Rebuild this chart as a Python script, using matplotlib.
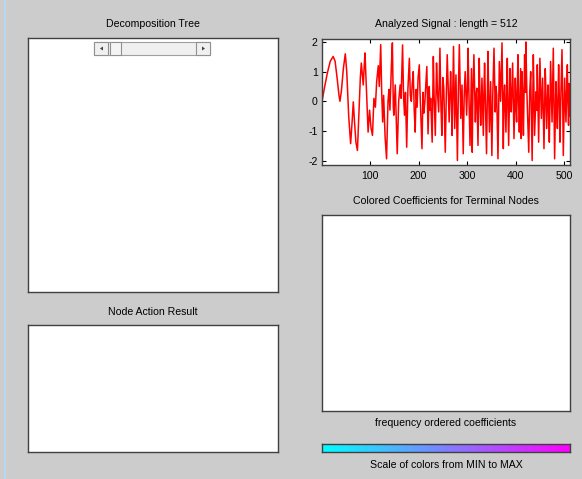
import numpy as np
import matplotlib.pyplot as plt
from matplotlib.patches import Rectangle, Polygon

plt.rcParams['font.family'] = ['Liberation Sans', 'DejaVu Sans']
plt.rcParams['axes.unicode_minus'] = False

# Дані сигналу (точки кривої)
sig_x = [1, 6, 12, 18, 24, 28, 32, 36, 38, 41, 45, 49, 52, 56, 60, 63, 65.5, 68, 71, 74,
         77, 80, 82, 84, 86, 88, 89.6, 92, 96, 99, 102, 105,
         108, 111, 113.6, 117, 119, 122, 124, 126, 128, 131, 134, 137, 139, 141, 144,
         146, 148, 149, 152, 154, 156, 159, 162, 164, 167, 169, 171, 173, 175.5, 178,
         181, 183, 185, 187, 189, 191, 193, 195, 197, 199, 201.5, 203, 205,
         207, 209, 211, 213, 215, 217, 219.5, 222, 223.5, 225, 228, 230.4, 232, 234.5,
         237, 239, 241.4, 244, 246, 248, 250, 252, 255, 257, 259, 261, 263, 266, 267.5,
         269, 272, 274.4, 276, 277, 280, 282, 284, 287, 289.5, 292, 294, 296, 299,
         300.5, 302, 304, 306, 309,
         310.5, 312, 314, 317, 318.5, 320, 322.4, 325, 326.5, 328, 330.6, 333.4, 334.8,
         336, 338, 340, 343, 344.5, 346, 348.5, 351, 353, 355.4, 358, 359.5, 361, 363.6,
         366.4, 369, 371.9, 374.6, 376, 377.3, 380, 382.8, 384, 385.6, 388.3, 390, 391,
         393.8, 395, 396.6, 399.3, 400.7, 402, 404.8, 406, 407.6, 410.3,
         411.5, 413, 414.5, 416, 418.5, 420, 421, 423, 424.5, 427, 429, 431, 432.5, 434,
         436.4, 437.8, 439, 442, 443.5, 444.6, 447.4, 449, 450, 453, 454.5, 455.6, 458.4,
         461, 462.5, 464, 466.6, 468, 469.4, 472, 473.5, 475, 477.6, 479, 480.3, 483,
         484.5, 486, 488.6, 490, 491.3, 493.5, 495.5, 497, 498.2, 501, 502.5, 503.7,
         506.5, 507.8, 509, 510.5, 512]
sig_y = [0.0, 0.45, 0.95, 1.35, 1.51, 1.35, 0.8, 0.2, 0.0, 0.35, 1.1, 1.6, 1.0, -0.5,
         -1.43, -0.7, -0.02, -0.7, -1.4, -1.66, -0.4, 0.8, 1.29, 0.9, 0.55, 1.2, 1.63,
         0.6, -1.04, -0.3, -0.9, -1.15,
         0.1, -0.2, 0.66, 1.2, 0.5, 1.91, 0.3, -0.7, 0.2, -1.2, -1.94, 0.0, 0.4, -0.3,
         1.2, 1.97, -0.2, -0.47, 0.55, -0.6, -1.77, 0.0, 0.55, 0.1, 1.9, 0.2, -0.47, 0.3,
         -1.55, 0.4, 1.45, 0.2, 0.0, 0.6, 1.0, -0.3, -1.04, 0.4, -0.2, 0.8, 1.23, 0.3,
         -0.6,
         -1.6, 0.3, -0.4, 0.0, 0.6, 1.17, -1.1, 0.5, -0.3, 0.1, -1.38, 1.51, 0.2, -1.15,
         1.29, 0.3, -0.36, 1.79, -0.1, -1.15, 0.8, 0.44, -1.72, 0.1, 1.57, 0.5, -0.7,
         1.0, 0.2, -1.15, 1.85, -0.92, 0.3, 0.89, -2.0, 0.4, 1.91, -0.58, 0.55, -1.77,
         0.2, 1.0, -0.47, 0.4, 1.79, 0.0, -1.49, 1.1,
         -1.72, 0.3, 1.57, -0.7, 0.2, 0.44, -1.49, 1.45, 0.1, -0.81, 0.78, -1.15, 0.4,
         1.29, -0.3, -1.77, 1.68, 0.2, -1.04, 0.66, -1.83, 0.3, 1.79, -0.36, 0.5, 0.21,
         -1.94, 1.34, 0.0, 1.97, -1.6, 0.2, 0.55, -1.04, 1.45, 0.0, -1.49, 1.1, -0.2,
         -0.36, 1.29, 0.2, -1.26, 0.78, -0.2, -0.7, 1.57, 0.1, -1.04, 1.1,
         -1.26, 1.0, 0.2, -1.15, 1.57, 0.3, 2.0, 0.4, -0.36, -1.72, 0.3, 1.0, -0.5, -2.0,
         1.57, 0.3, -1.15, 0.32, -0.3, 1.23, -1.38, 0.5, 1.45, -0.58, 0.2, 0.78, -1.6,
         1.1, 0.2, -0.92, 0.55, -0.2, -1.38, 1.34, 0.3, -0.7, 1.79, 0.0, -1.94, 0.66,
         -0.2, -0.92, 1.23, 0.1, -1.38, 0.4, 1.74, 0.0, -1.83, 0.78, -0.1, -0.7, 1.23,
         0.0, -0.81, 0.6, -0.5]
x_ticks = [100, 200, 300, 400, 500]
y_ticks = [-2, -1, 0, 1, 2]

W, H = 582, 479
bg = '#cccccc'
fs = 7.6
fig = plt.figure(figsize=(W / 100, H / 100), dpi=100, facecolor=bg)


def box(px_left, px_top, px_right, px_bottom):
    # осі в піксельних координатах картинки
    return fig.add_axes([px_left / W, 1 - px_bottom / H,
                         (px_right - px_left) / W, (px_bottom - px_top) / H])


def frame(ax):
    for s in ax.spines.values():
        s.set_color('#404040')
        s.set_linewidth(1)


def label(px_x, px_y, txt):
    fig.text(px_x / W, 1 - px_y / H, txt, ha='center', va='center', fontsize=fs, color='black')


# Decomposition Tree
ax_tree = box(28, 38, 278, 292)
ax_tree.set_xticks([])
ax_tree.set_yticks([])
frame(ax_tree)
label(153, 24, 'Decomposition Tree')

# Смуга прокрутки
def fig_rect(l, t, r, b, fc, ec):
    fig.patches.append(Rectangle((l / W, 1 - b / H), (r - l) / W, (b - t) / H,
                                 transform=fig.transFigure, facecolor=fc,
                                 edgecolor=ec, linewidth=0.8, zorder=5))

fig_rect(94, 42, 210, 55, '#f0f0f0', '#a0a0a0')
fig_rect(94, 42, 108, 55, '#f0f0f0', '#909090')
fig_rect(110, 42, 121, 55, '#f4f4f4', '#909090')
fig_rect(196, 42, 210, 55, '#f0f0f0', '#909090')
for pts in ([(100, 48.5), (103, 46.5), (103, 50.5)], [(205, 48.5), (202, 46.5), (202, 50.5)]):
    fig.patches.append(Polygon([(x / W, 1 - y / H) for x, y in pts], closed=True,
                               transform=fig.transFigure, facecolor='#404040',
                               edgecolor='none', zorder=6))

# Node Action Result
ax_node = box(28, 325, 278, 452)
ax_node.set_xticks([])
ax_node.set_yticks([])
frame(ax_node)
label(153, 312, 'Node Action Result')

# Analyzed Signal
ax_sig = box(322, 39, 570, 165)
ax_sig.plot(sig_x, sig_y, color='red', linewidth=1.1)
ax_sig.set_xlim(1, 512)
ax_sig.set_ylim(-2.15, 2.1)
ax_sig.set_xticks(x_ticks)
ax_sig.set_yticks(y_ticks)
ax_sig.tick_params(direction='in', length=3, labelsize=fs, top=True, right=True, pad=4)
ax_sig.tick_params(axis='y', pad=3)
frame(ax_sig)
label(446, 24, 'Analyzed Signal : length = 512')

# Colored Coefficients for Terminal Nodes
ax_coef = box(322, 215, 570, 411)
ax_coef.set_xticks([])
ax_coef.set_yticks([])
frame(ax_coef)
label(446, 201, 'Colored Coefficients for Terminal Nodes')
label(446, 423, 'frequency ordered coefficients')

# Шкала кольорів
ax_cb = box(322, 444, 570, 452)
ax_cb.imshow(np.linspace(0, 1, 256).reshape(1, -1), cmap='cool', aspect='auto')
ax_cb.set_xticks([])
ax_cb.set_yticks([])
frame(ax_cb)
label(446, 465, 'Scale of colors from MIN to MAX')

# межа вікна
fig.add_artist(plt.Line2D([5 / W, 5 / W], [0, 1], transform=fig.transFigure,
                          color='#b8d8f0', linewidth=1.5))

fig.savefig('out.png', dpi=100, facecolor=bg)
